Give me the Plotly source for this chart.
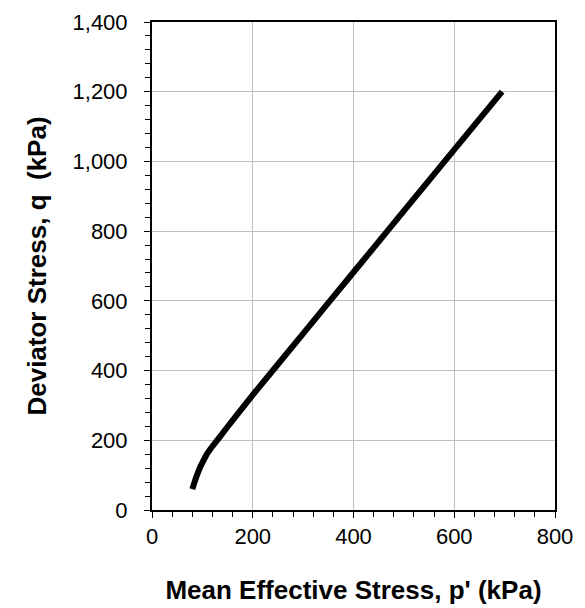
import plotly.graph_objects as go

p_vals = [80, 84, 88, 92, 96, 100, 105, 110, 115, 120, 130, 140, 160, 200, 300, 400, 500, 600, 695]
q_vals = [60, 78, 95, 110, 124, 136, 150, 163, 173, 183, 201, 220, 257, 330, 506, 682, 858, 1034, 1200]

x_ticks = [0, 200, 400, 600, 800]
y_ticks = [0, 200, 400, 600, 800, 1000, 1200, 1400]

fig = go.Figure()
fig.add_trace(go.Scatter(x=p_vals, y=q_vals, mode="lines",
                         line=dict(color="black", width=6, shape="spline", smoothing=0.6),
                         hoverinfo="skip"))

font = "Liberation Sans, Arial, sans-serif"
fig.update_layout(
    width=585, height=608,
    margin=dict(l=152, r=30, t=22, b=98),
    paper_bgcolor="white", plot_bgcolor="white",
    showlegend=False,
    font=dict(family=font, size=22, color="black"),
)
fig.update_xaxes(
    range=[0, 800], tickvals=x_ticks, tickformat=",d",
    showline=True, linecolor="black", linewidth=2, mirror=True,
    showgrid=True, gridcolor="#c0c0c0", gridwidth=1,
    ticks="outside", ticklen=6, tickcolor="black", tickwidth=1,
    minor=dict(dtick=40, ticks="outside", ticklen=5, tickcolor="black", showgrid=False),
    zeroline=False, automargin=False,
    title=dict(text="<b>Mean Effective Stress, p' (kPa)</b>", font=dict(size=26), standoff=32),
)
fig.update_yaxes(
    range=[0, 1400], tickvals=y_ticks, tickformat=",d",
    showline=True, linecolor="black", linewidth=2, mirror=True,
    showgrid=True, gridcolor="#c0c0c0", gridwidth=1,
    ticks="outside", ticklen=6, tickcolor="black", tickwidth=1,
    ticklabelstandoff=12,
    minor=dict(dtick=40, ticks="outside", ticklen=5, tickcolor="black", showgrid=False),
    zeroline=False, automargin=False,
    title=dict(text="<b>Deviator Stress, q  (kPa)</b>", font=dict(size=26), standoff=18),
)
fig.write_html("out.html")
